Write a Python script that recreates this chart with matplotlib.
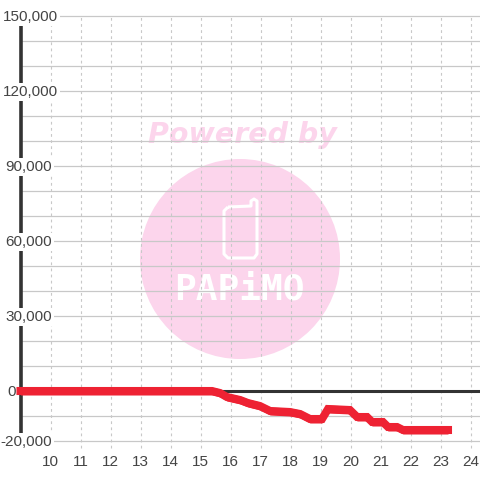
import matplotlib
matplotlib.use("Agg")
import matplotlib.pyplot as plt
import numpy as np
from matplotlib.patches import Circle, PathPatch
from matplotlib.path import Path

hours = [9.0, 15.15, 15.38, 15.65, 15.88, 16.32, 16.58, 16.98, 17.32, 17.98, 18.32, 18.65,
         19.05, 19.25, 19.98, 20.22, 20.55, 20.72, 21.08, 21.25, 21.55, 21.75, 23.25]
values = [0, 0, 0, -800, -2400, -3600, -4800, -6000, -8000, -8400, -9200, -11200,
          -11200, -7200, -7600, -10400, -10400, -12400, -12400, -14400, -14400, -15600, -15600]
x_ticks = list(range(10, 25))
y_grid = list(range(-20000, 150001, 10000))
y_labels = [150000, 120000, 90000, 60000, 30000, 0, -20000]

TXT = "#444444"
FS = 11
PINK = "#fcd5ec"

fig = plt.figure(figsize=(4.8, 4.8), dpi=100)
ax = fig.add_axes([0, 0, 1, 1])
# 30 px per hour (hour 10 at x=50.5); 2.5 px per 1000 (0 at y=391)
ax.set_xlim(9 - 20.5 / 30, 9 + 459.5 / 30)
ax.set_ylim(-(480 - 391) * 400, 391 * 400)
ax.axis("off")

def px(x, y):
    return 9 + (x - 20.5) / 30, (391 - y) * 400

def fc(x, y):
    return x / 480, 1 - y / 480

# Watermark
fig.add_artist(Circle(fc(240, 259), 100 / 480, transform=fig.transFigure, fc=PINK, ec="none", zorder=-1))
fig.text(*fc(242, 135), "Powered by", color=PINK, fontsize=20.5, fontweight="bold",
         style="oblique", family="DejaVu Sans", ha="center", va="center", zorder=-1)
outline = [(228, 207), (251, 206), (251, 201), (254, 199), (257, 201), (257, 254), (254, 258),
           (228, 258), (224, 254), (224, 211), (228, 207)]
phone = PathPatch(Path([fc(*p) for p in outline]), transform=fig.transFigure,
                  fc="none", ec="white", lw=2.2, joinstyle="round", zorder=-0.5)
fig.add_artist(phone)
fig.text(*fc(239, 290), "PAPiMO", color="white", fontsize=26, fontweight="bold",
         family="DejaVu Sans Mono", ha="center", va="center", zorder=-0.5)

# Grid
ax.hlines(y_grid, px(20.5, 0)[0], ax.get_xlim()[1], color="#c8c8c8", lw=0.9, zorder=1)
ax.vlines(x_ticks, px(0, 448)[1], px(0, 16)[1], color="#c8c8c8", lw=0.8, linestyles=(0, (2.5, 3)), zorder=1)

# Axis lines
ax.plot([9, 9], [px(0, 448)[1], px(0, 16)[1]], color="#333333", lw=2.6, zorder=2, solid_capstyle="butt")
ax.plot([9, ax.get_xlim()[1]], [0, 0], color="#333333", lw=2.2, zorder=2, solid_capstyle="butt")

# Tick labels
rights = [58, 58, 52, 52, 52, 16, 52]
for v, r in zip(y_labels, rights):
    ax.text(px(r, 0)[0], v - 400, f"{v:,}", ha="right", va="center", fontsize=FS, color=TXT,
            family="Liberation Sans", zorder=3,
            bbox=dict(fc="white", ec="none", pad=1.4))
for h in x_ticks:
    ax.text(h + 0.01, px(0, 461.5)[1], str(h), ha="center", va="center", fontsize=FS, color=TXT,
            family="Liberation Sans", zorder=3)

# Series: a flat-nibbed band, thicker vertically on the slopes
v = np.array(values)
ax.plot(hours, values, color="#ee2233", lw=5.8, solid_capstyle="projecting", solid_joinstyle="miter", zorder=4)
ax.fill_between(hours, v - 1600, v + 1600, color="#ee2233", lw=0, zorder=4)

fig.savefig("out.png", dpi=100, facecolor="white")
